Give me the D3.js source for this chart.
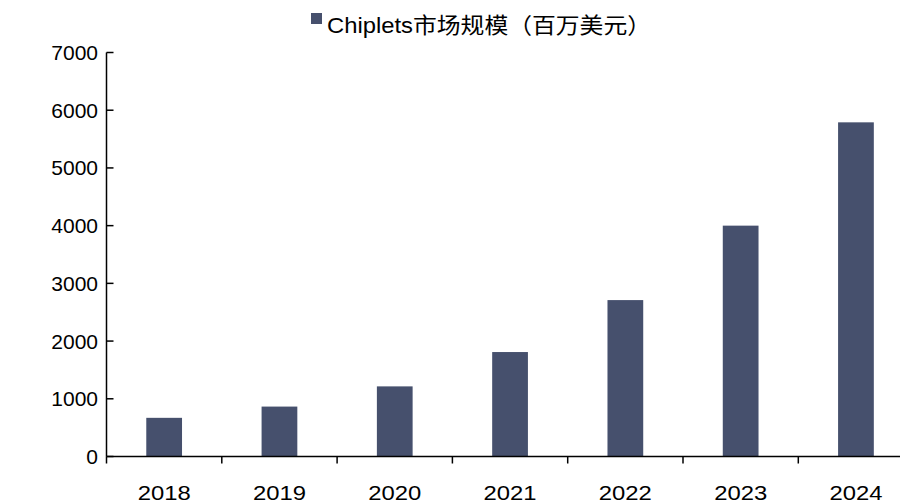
<!DOCTYPE html>
<html><head><meta charset="utf-8">
<script src="https://cdn.jsdelivr.net/npm/d3@7/dist/d3.min.js"></script>
<style>
html,body{margin:0;padding:0;background:#fff;}
svg{display:block;font-family:"Liberation Sans",Arial,"Noto Sans CJK SC",sans-serif;}
</style></head>
<body><svg id="chart" width="900" height="503"></svg>
<script>
const years = ["2018","2019","2020","2021","2022","2023","2024"];
const marketSize = [670, 865, 1215, 1810, 2710, 4000, 5790];
const yTicks = [0,1000,2000,3000,4000,5000,6000,7000];
const legendLabel = "Chiplets市场规模（百万美元）";

(function(){
const svg = d3.select("#chart");
const plotLeft = 106.5, plotBottom = 456.5, plotTop = 52.5, step = 115.3;
const x = d3.scaleBand().domain(years).range([plotLeft, plotLeft + step*years.length]).paddingInner(0.69).paddingOuter(0.345);
const y = d3.scaleLinear().domain([0,7000]).range([plotBottom, plotTop]);
const barColor = "#46506d";

// bars
svg.append("g").selectAll("rect").data(years).join("rect")
  .attr("x", d => x(d))
  .attr("width", x.bandwidth())
  .attr("y", (d,i) => y(marketSize[i]))
  .attr("height", (d,i) => y(0) - y(marketSize[i]))
  .attr("fill", barColor);

// y axis
const yAxis = svg.append("g");
yAxis.append("line").attr("x1", plotLeft).attr("x2", plotLeft).attr("y1", plotTop).attr("y2", plotBottom).attr("stroke","#000").attr("stroke-width",1.5);
yAxis.selectAll("line.t").data(yTicks).join("line").attr("class","t")
  .attr("x1", plotLeft).attr("x2", plotLeft+7).attr("y1", d => y(d)).attr("y2", d => y(d))
  .attr("stroke","#000").attr("stroke-width",1.5);
yAxis.selectAll("text").data(yTicks).join("text")
  .attr("x", 98).attr("y", d => y(d)).attr("dy","0.36em")
  .attr("text-anchor","end").attr("font-size","21px").attr("fill","#000")
  .text(d => d);

// x axis
const xAxis = svg.append("g");
xAxis.append("line").attr("x1", plotLeft).attr("x2", 900).attr("y1", plotBottom).attr("y2", plotBottom).attr("stroke","#000").attr("stroke-width",1.5);
const bounds = years.map(d => x(d) - x.step()*x.paddingOuter());
xAxis.selectAll("line.t").data(bounds).join("line").attr("class","t")
  .attr("x1", d => d).attr("x2", d => d).attr("y1", plotBottom).attr("y2", plotBottom+7)
  .attr("stroke","#000").attr("stroke-width",1.5);
xAxis.selectAll("text").data(years).join("text")
  .attr("x", d => x(d) + x.bandwidth()/2).attr("y", 500)
  .attr("text-anchor","middle").attr("font-size","20px").attr("fill","#000")
  .attr("textLength", 53).attr("lengthAdjust","spacingAndGlyphs")
  .text(d => d);

// legend
const lg = svg.append("g");
lg.append("rect").attr("x", 311).attr("y", 13).attr("width", 11).attr("height", 11).attr("fill", barColor);
lg.append("text").attr("x", 327).attr("y", 33).attr("font-size","22px").attr("fill","#000")
  .attr("font-family","'Liberation Sans','Noto Sans CJK SC',sans-serif")
  .attr("textLength", 324).attr("lengthAdjust","spacingAndGlyphs")
  .text(legendLabel);
})();
</script></body></html>
